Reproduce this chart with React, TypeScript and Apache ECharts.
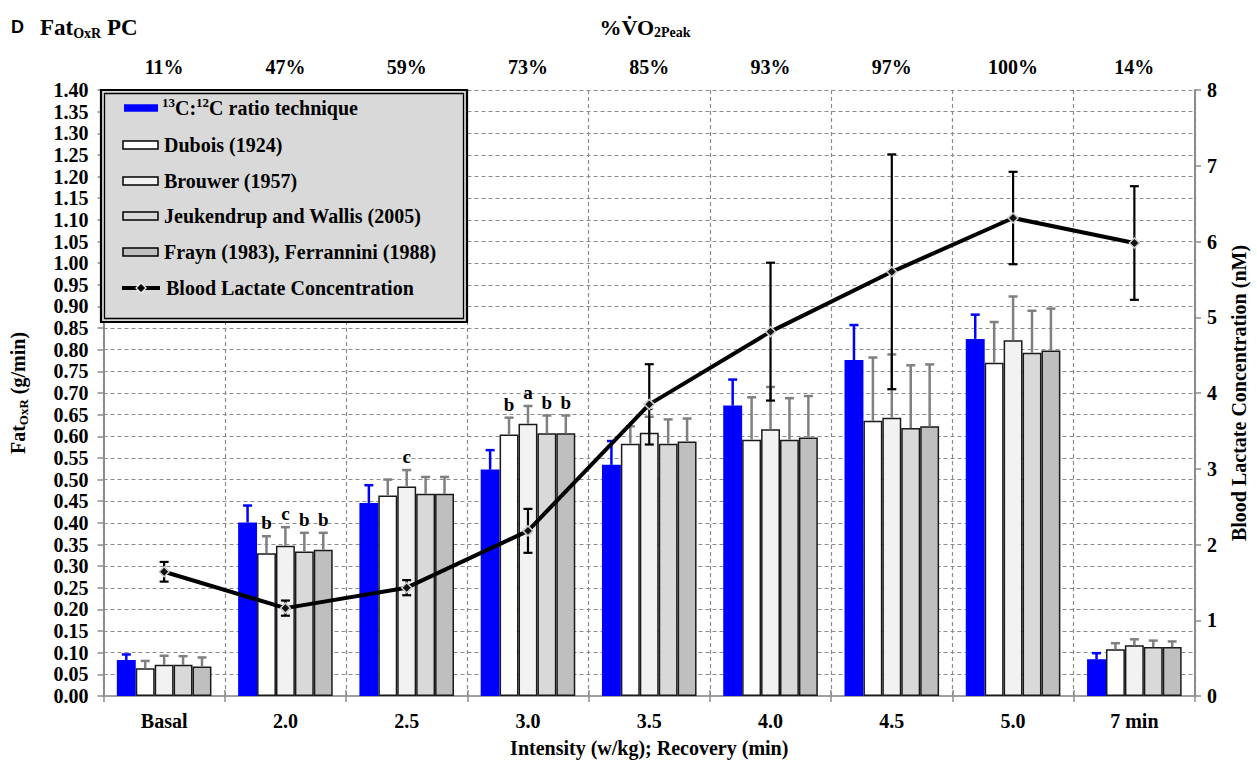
import React, { useEffect, useRef } from "react";
import * as echarts from "echarts";

const categories = ["Basal", "2.0", "2.5", "3.0", "3.5", "4.0", "4.5", "5.0", "7 min"];
const vo2Labels = ["11%", "47%", "59%", "73%", "85%", "93%", "97%", "100%", "14%"];

const ratio13C = [0.083, 0.401, 0.446, 0.523, 0.534, 0.671, 0.776, 0.825, 0.085];
const ratio13CSD = [0.013, 0.039, 0.041, 0.045, 0.055, 0.06, 0.081, 0.056, 0.014];
const dubois = [0.064, 0.33, 0.463, 0.604, 0.583, 0.592, 0.636, 0.77, 0.108];
const duboisSD = [0.017, 0.039, 0.037, 0.039, 0.04, 0.098, 0.146, 0.094, 0.014];
const brouwer = [0.072, 0.347, 0.484, 0.629, 0.608, 0.616, 0.643, 0.822, 0.117];
const brouwerSD = [0.021, 0.043, 0.038, 0.041, 0.037, 0.098, 0.146, 0.101, 0.014];
const jeukendrup = [0.072, 0.334, 0.467, 0.607, 0.583, 0.592, 0.619, 0.793, 0.113];
const jeukendrupSD = [0.02, 0.043, 0.039, 0.041, 0.056, 0.096, 0.145, 0.097, 0.015];
const frayn = [0.068, 0.338, 0.467, 0.607, 0.588, 0.597, 0.623, 0.798, 0.113];
const fraynSD = [0.021, 0.039, 0.039, 0.041, 0.053, 0.096, 0.143, 0.097, 0.013];

const duboisSig = ["", "b", "", "b", "", "", "", "", ""];
const brouwerSig = ["", "c", "c", "a", "c", "", "", "", ""];
const jeukendrupSig = ["", "b", "", "b", "", "", "", "", ""];
const fraynSig = ["", "b", "", "b", "", "", "", "", ""];
const noSig = ["", "", "", "", "", "", "", "", ""];

const lactate = [1.64, 1.16, 1.43, 2.18, 3.85, 4.81, 5.6, 6.31, 5.98];
const lactateSD = [0.13, 0.1, 0.1, 0.29, 0.53, 0.91, 1.55, 0.61, 0.75];

const leftTicks = { min: 0, max: 1.4, interval: 0.05 };
const rightTicks = { min: 0, max: 8, interval: 1 };

const SERIF = "Liberation Serif";
const SANS = "Liberation Sans";
const GRID_COLOR = "#8c8c8c";
const CAT_GAP = 0.22;
const FS = 20;

const barDefs = [
  { name: "13C:12C ratio technique", data: ratio13C, sd: ratio13CSD, sig: noSig, color: "#0000ff", border: false, errColor: "#0000ff" },
  { name: "Dubois (1924)", data: dubois, sd: duboisSD, sig: duboisSig, color: "#ffffff", border: true, errColor: "#808080" },
  { name: "Brouwer (1957)", data: brouwer, sd: brouwerSD, sig: brouwerSig, color: "#f2f2f2", border: true, errColor: "#808080" },
  { name: "Jeukendrup and Wallis (2005)", data: jeukendrup, sd: jeukendrupSD, sig: jeukendrupSig, color: "#d9d9d9", border: true, errColor: "#808080" },
  { name: "Frayn (1983), Ferrannini (1988)", data: frayn, sd: fraynSD, sig: fraynSig, color: "#bfbfbf", border: true, errColor: "#808080" },
];

function barErrSeries(idx: number) {
  const d = barDefs[idx];
  return {
    type: "custom",
    name: d.name + " SD",
    xAxisIndex: 0,
    yAxisIndex: 0,
    z: 3,
    silent: true,
    data: d.data.map((v, i) => [i, v, v + d.sd[i]]),
    renderItem: (params: any, api: any) => {
      const i = api.value(0);
      const base = api.coord([i, api.value(1)]);
      const tip = api.coord([i, api.value(2)]);
      const catW = api.size([1, 0])[0];
      const bw = (catW * (1 - CAT_GAP)) / barDefs.length;
      const x = base[0] + (idx - (barDefs.length - 1) / 2) * bw;
      const children: any[] = [
        { type: "line", shape: { x1: x, y1: base[1], x2: x, y2: tip[1] }, style: { stroke: d.errColor, lineWidth: 2.5 } },
        { type: "line", shape: { x1: x - 4.5, y1: tip[1], x2: x + 4.5, y2: tip[1] }, style: { stroke: d.errColor, lineWidth: 2.5 } },
      ];
      const letter = d.sig[params.dataIndex];
      if (letter) {
        children.push({
          type: "text",
          style: {
            text: letter,
            x,
            y: tip[1] - 4,
            align: "center",
            verticalAlign: "bottom",
            fontFamily: SERIF,
            fontWeight: "bold",
            fontSize: 19,
            fill: "#000",
          },
        });
      }
      return { type: "group", children };
    },
  };
}

const lactateErrSeries = {
  type: "custom",
  name: "Lactate SD",
  xAxisIndex: 0,
  yAxisIndex: 1,
  z: 5,
  silent: true,
  data: lactate.map((v, i) => [i, v - lactateSD[i], v + lactateSD[i]]),
  renderItem: (params: any, api: any) => {
    const i = api.value(0);
    const lo = api.coord([i, api.value(1)]);
    const hi = api.coord([i, api.value(2)]);
    const x = lo[0];
    const st = { stroke: "#000", lineWidth: 2.2 };
    return {
      type: "group",
      children: [
        { type: "line", shape: { x1: x, y1: lo[1], x2: x, y2: hi[1] }, style: st },
        { type: "line", shape: { x1: x - 4.5, y1: lo[1], x2: x + 4.5, y2: lo[1] }, style: st },
        { type: "line", shape: { x1: x - 4.5, y1: hi[1], x2: x + 4.5, y2: hi[1] }, style: st },
      ],
    };
  },
};

const legendRows = [108, 145, 181, 216, 252, 288];

function legendGraphics() {
  const els: any[] = [
    { type: "rect", shape: { x: 101, y: 90, width: 366, height: 232 }, style: { fill: "#d9d9d9", stroke: "#000", lineWidth: 2.2 }, z: 100 },
    { type: "rect", shape: { x: 104.5, y: 93.5, width: 359, height: 225 }, style: { fill: "none", stroke: "#000", lineWidth: 1.3 }, z: 101 },
  ];
  const textStyle = { fontFamily: SERIF, fontWeight: "bold", fontSize: FS, fill: "#000" };
  barDefs.forEach((d, k) => {
    const y = legendRows[k];
    if (k === 0) {
      els.push({ type: "rect", shape: { x: 124, y: y - 3.8, width: 34, height: 7.6 }, style: { fill: d.color }, z: 102 });
      els.push({
        type: "text",
        x: 162,
        y,
        z: 102,
        style: {
          ...textStyle,
          text: "{sup|13}C:{sup|12}C ratio technique",
          verticalAlign: "middle",
          rich: {
            sup: { fontFamily: SERIF, fontWeight: "bold", fontSize: 13, padding: [0, 0, 12, 0] },
          },
        },
      });
    } else {
      els.push({ type: "rect", shape: { x: 123, y: y - 4, width: 35, height: 8 }, style: { fill: d.color, stroke: "#000", lineWidth: 1.5 }, z: 102 });
      els.push({ type: "text", x: 164, y, z: 102, style: { ...textStyle, text: d.name, verticalAlign: "middle" } });
    }
  });
  const ly = legendRows[5];
  els.push({ type: "line", shape: { x1: 122, y1: ly, x2: 160, y2: ly }, style: { stroke: "#000", lineWidth: 4 }, z: 102 });
  els.push({ type: "polygon", shape: { points: [[141, ly - 5], [146, ly], [141, ly + 5], [136, ly]] }, style: { fill: "#000", stroke: "#eee", lineWidth: 1.3 }, z: 103 });
  els.push({ type: "text", x: 166, y: ly, z: 102, style: { ...textStyle, text: "Blood Lactate Concentration", verticalAlign: "middle" } });
  return els;
}

function buildOption() {
  const labelStyle = { fontFamily: SERIF, fontWeight: "bold", fontSize: FS, color: "#000" };
  return {
    animation: false,
    backgroundColor: "#ffffff",
    textStyle: { fontFamily: SERIF },
    grid: { left: 101, right: 59, top: 90, bottom: 66, containLabel: false },
    xAxis: [
      {
        type: "category",
        data: categories,
        position: "bottom",
        name: "Intensity (w/kg); Recovery (min)",
        nameLocation: "middle",
        nameGap: 42,
        nameTextStyle: { ...labelStyle },
        axisLine: { show: true, lineStyle: { color: GRID_COLOR, width: 2 } },
        axisTick: { show: true, interval: 0, length: 6, lineStyle: { color: GRID_COLOR, width: 1.5 } },
        axisLabel: { ...labelStyle, interval: 0, margin: 15 },
        splitLine: { show: true, interval: 0, lineStyle: { color: GRID_COLOR, type: [4, 3], width: 1.2 } },
      },
      {
        type: "category",
        data: vo2Labels,
        position: "top",
        axisLine: { show: true, lineStyle: { color: "#a6a6a6", width: 1.5 } },
        axisTick: { show: true, interval: 0, length: 6, lineStyle: { color: GRID_COLOR, width: 1.5 } },
        axisLabel: { ...labelStyle, interval: 0, margin: 13 },
        splitLine: { show: false },
      },
    ],
    yAxis: [
      {
        type: "value",
        min: leftTicks.min,
        max: leftTicks.max,
        interval: leftTicks.interval,
        position: "left",
        name: "Fat{sub|OxR} (g/min)",
        nameLocation: "middle",
        nameGap: 74,
        nameTextStyle: {
          ...labelStyle,
          rich: { sub: { fontFamily: SERIF, fontWeight: "bold", fontSize: 13, padding: [10, 0, 0, 0] } },
        },
        axisLine: { show: true, lineStyle: { color: GRID_COLOR, width: 2 } },
        axisTick: { show: true, length: 6, lineStyle: { color: GRID_COLOR, width: 1.5 } },
        axisLabel: { ...labelStyle, margin: 15, formatter: (v: number) => v.toFixed(2) },
        splitLine: { show: true, lineStyle: { color: GRID_COLOR, type: [4, 3], width: 1.2 } },
      },
      {
        type: "value",
        min: rightTicks.min,
        max: rightTicks.max,
        interval: rightTicks.interval,
        position: "right",
        name: "Blood Lactate Concentration (nM)",
        nameLocation: "middle",
        nameGap: 34,
        nameRotate: 90,
        nameTextStyle: { ...labelStyle },
        axisLine: { show: true, lineStyle: { color: GRID_COLOR, width: 2 } },
        axisTick: { show: true, length: 6, lineStyle: { color: GRID_COLOR, width: 1.5 } },
        axisLabel: { ...labelStyle, margin: 12 },
        splitLine: { show: false },
      },
    ],
    series: [
      ...barDefs.map((d) => ({
        type: "bar",
        name: d.name,
        xAxisIndex: 0,
        yAxisIndex: 0,
        data: d.data,
        barGap: "0%",
        barCategoryGap: CAT_GAP * 100 + "%",
        z: 2,
        itemStyle: d.border ? { color: d.color, borderColor: "#1a1a1a", borderWidth: 1.5 } : { color: d.color },
      })),
      ...barDefs.map((_, i) => barErrSeries(i)),
      lactateErrSeries,
      {
        type: "line",
        name: "Blood Lactate Concentration",
        xAxisIndex: 0,
        yAxisIndex: 1,
        data: lactate,
        z: 6,
        lineStyle: { color: "#000", width: 4 },
        symbol: "diamond",
        symbolSize: 10,
        itemStyle: { color: "#111", borderColor: "#cccccc", borderWidth: 1.5 },
      },
    ],
    graphic: [
      {
        type: "text",
        x: 11,
        y: 27,
        style: { text: "D", fontFamily: SANS, fontWeight: "bold", fontSize: 18, fill: "#000", verticalAlign: "middle" },
      },
      {
        type: "text",
        x: 40,
        y: 27,
        style: {
          text: "Fat{sub|OxR} PC",
          fontFamily: SERIF,
          fontWeight: "bold",
          fontSize: 23,
          fill: "#000",
          verticalAlign: "middle",
          rich: { sub: { fontFamily: SERIF, fontWeight: "bold", fontSize: 14, padding: [12, 0, 0, 0] } },
        },
      },
      {
        type: "text",
        x: 645,
        y: 27,
        style: {
          text: "%V\u0307O{sub|2Peak}",
          fontFamily: SERIF,
          fontWeight: "bold",
          fontSize: 22,
          fill: "#000",
          align: "center",
          verticalAlign: "middle",
          rich: { sub: { fontFamily: SERIF, fontWeight: "bold", fontSize: 14, padding: [11, 0, 0, 0] } },
        },
      },
      ...legendGraphics(),
    ],
  };
}

export default function App() {
  const ref = useRef<HTMLDivElement>(null);
  useEffect(() => {
    if (!ref.current) return;
    const chart = echarts.init(ref.current, null, { renderer: "svg" });
    chart.setOption(buildOption() as any);
    return () => chart.dispose();
  }, []);
  return <div ref={ref} style={{ position: "fixed", left: 0, top: 0, width: 1257, height: 763, background: "#fff" }} />;
}
